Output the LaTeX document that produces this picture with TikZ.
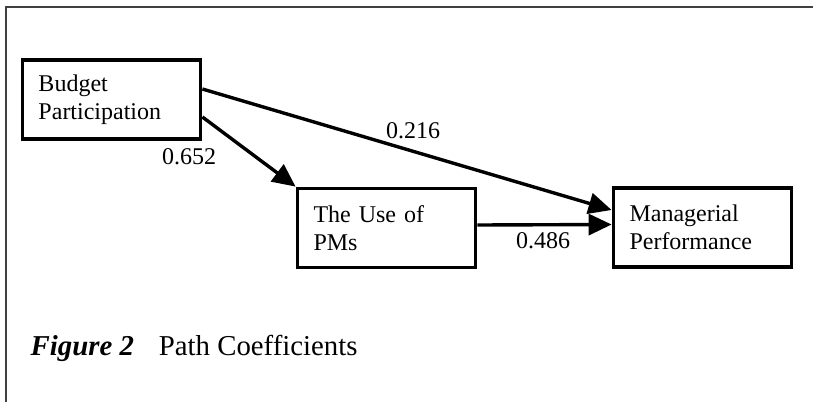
\documentclass[tikz,border=0pt]{standalone}
\usepackage{fontspec}
\setmainfont{Liberation Serif}
\usetikzlibrary{arrows.meta, positioning}
\tikzset{
    construct/.style={
           rectangle,
           draw=black, line width=1.9pt,
           minimum width=89pt,
           minimum height=39.5pt,
           text width=73pt,
           inner xsep=8pt,
           align=left,
           font=\fontsize{12}{14}\selectfont,
           },
    coef/.style={
           inner sep=0pt,
           font=\fontsize{12}{14}\selectfont,
           },
    frameline/.style={-, draw=black!75, line width=1.1pt},
}
\newcommand{\BudPart}{Budget\\Participation}
\newcommand{\UsePMs}{The Use of\\PMs}
\newcommand{\ManPerf}{Managerial\\Performance}
\newcommand{\figcap}[2]{{\fontsize{14.4}{17}\selectfont\textbf{\textit{#1}}\hspace{12.5pt}#2}}

\begin{document}
\begin{tikzpicture}[x=0.5pt, y=-0.5pt, line width=1.7pt, -{Triangle[length=11.5pt,width=10.5pt]}]
      \useasboundingbox (0,0) rectangle (813,402);
      % frame of the figure (top and left only)
      \coordinate (fTL) at (6,7);
      \coordinate (fTR) at (813,7);
      \coordinate (fBL) at (6,402);
      \draw[frameline] (fTR) -- (fTL) -- (fBL);

      \node[construct] (bp) at (111.5, 99.5) {\BudPart};
      \node[construct] (pm) at (386.5, 228)  {\UsePMs};
      \node[construct] (mp) at (702.5, 227.5) {\ManPerf};

      \draw ([yshift=5.25pt]bp.east)  -- ([yshift=8.75pt]mp.west);
      \draw ([yshift=-8.75pt]bp.east) -- (pm.north west);
      \draw ([yshift=1.5pt]pm.east)   -- ([yshift=1.5pt]mp.west);

      \node[coef] (c216) at (413, 131) {0.216};
      \node[coef] (c652) at (189, 157) {0.652};
      \node[coef] (c486) at (543, 241) {0.486};

      \node[anchor=base west, inner sep=0pt] (cap) at (29, 355) {\figcap{Figure 2}{Path Coefficients}};
    \end{tikzpicture}
\end{document}
